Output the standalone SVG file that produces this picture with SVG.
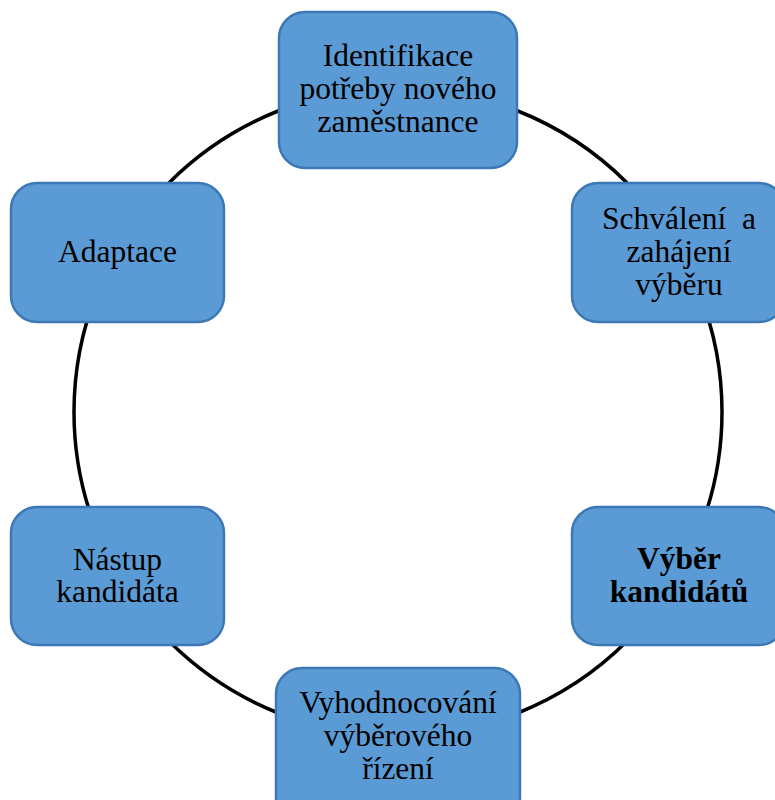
<svg xmlns="http://www.w3.org/2000/svg" width="775" height="800" viewBox="0 0 775 800">
  <style>
    .box { fill: #5B9BD5; stroke: #3C78B5; stroke-width: 2.5; }
    .lbl { font-family: "Liberation Serif", "Times New Roman", serif; font-size: 31.5px; fill: #000; text-anchor: middle; }
    .bold { font-weight: bold; }
    .ring { fill: none; stroke: #000; stroke-width: 3.5; }
  </style>
  <rect width="775" height="800" fill="#fff"/>
  <g id="connectors">
    <circle class="ring" cx="398" cy="412" r="324"/>
  </g>
  <g id="node-identifikace">
    <rect class="box" x="279" y="12" width="238" height="156" rx="26" ry="26"/>
    <text class="lbl" x="398" y="66">Identifikace</text>
    <text class="lbl" x="398" y="99">potřeby nového</text>
    <text class="lbl" x="398" y="132">zaměstnance</text>
  </g>
  <g id="node-schvaleni">
    <rect class="box" x="572" y="183" width="213" height="139" rx="26" ry="26"/>
    <text class="lbl" x="679" y="229" xml:space="preserve">Schválení  a</text>
    <text class="lbl" x="679" y="262">zahájení</text>
    <text class="lbl" x="679" y="295">výběru</text>
  </g>
  <g id="node-vyber">
    <rect class="box" x="572" y="507" width="213" height="138" rx="26" ry="26"/>
    <text class="lbl bold" x="679" y="569">Výběr</text>
    <text class="lbl bold" x="679" y="602">kandidátů</text>
  </g>
  <g id="node-vyhodnocovani">
    <rect class="box" x="276" y="668" width="244" height="156" rx="26" ry="26"/>
    <text class="lbl" x="398" y="713">Vyhodnocování</text>
    <text class="lbl" x="398" y="746">výběrového</text>
    <text class="lbl" x="398" y="779">řízení</text>
  </g>
  <g id="node-nastup">
    <rect class="box" x="11" y="507" width="213" height="138" rx="26" ry="26"/>
    <text class="lbl" x="117.5" y="570">Nástup</text>
    <text class="lbl" x="117.5" y="602">kandidáta</text>
  </g>
  <g id="node-adaptace">
    <rect class="box" x="11" y="183" width="213" height="139" rx="26" ry="26"/>
    <text class="lbl" x="117.5" y="262">Adaptace</text>
  </g>
</svg>
